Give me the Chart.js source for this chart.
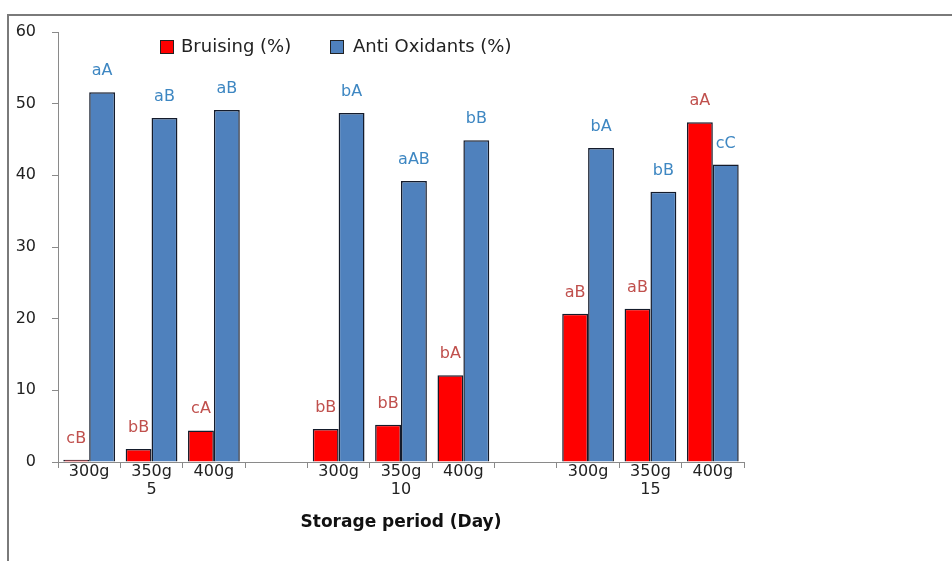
<!DOCTYPE html>
<html>
<head>
<meta charset="utf-8">
<script src="https://cdn.jsdelivr.net/npm/chart.js@4"></script>
<style>
  html, body { margin: 0; padding: 0; background: #fff; }
  canvas { display: block; }
</style>
</head>
<body>
<canvas id="bar" width="952" height="561"></canvas>
<script>
(function () {
  // data
  const weights = ['300g', '350g', '400g'];
  const days = ['5', '10', '15'];
  const bruising = [0.3, 1.8, 4.4, null, 4.6, 5.2, 12.1, null, 20.7, 21.4, 47.4];
  const antiOx = [51.6, 48.0, 49.1, null, 48.7, 39.2, 44.9, null, 43.8, 37.7, 41.5];
  const bruisingLetters = ['cB', 'bB', 'cA', null, 'bB', 'bB', 'bA', null, 'aB', 'aB', 'aA'];
  const antiOxLetters = ['aA', 'aB', 'aB', null, 'bA', 'aAB', 'bB', null, 'bA', 'bB', 'cC'];
  const yTicks = [0, 10, 20, 30, 40, 50, 60];

  // two level labels: weight, with the day under the middle bar
  const labels = [];
  days.forEach((d, i) => {
    if (i > 0) labels.push(['']);
    weights.forEach((w, j) => labels.push(j === 1 ? [w, d] : [w]));
  });

  const FONT = '"DejaVu Sans", sans-serif';

  // letters above bars
  const letters = {
    id: 'letters',
    afterDatasetsDraw(chart) {
      const ctx = chart.ctx;
      const sets = [[bruisingLetters, '#c0504d'], [antiOxLetters, '#3e87c2']];
      ctx.save();
      ctx.font = '16px ' + FONT;
      ctx.textAlign = 'center';
      ctx.textBaseline = 'alphabetic';
      sets.forEach(([txt, col], di) => {
        const meta = chart.getDatasetMeta(di);
        meta.data.forEach((el, i) => {
          if (!txt[i]) return;
          ctx.fillStyle = col;
          ctx.fillText(txt[i], el.x, el.y - 17);
        });
      });
      ctx.restore();
    }
  };

  // frame + legend drawn inside the plot
  const frame = {
    id: 'frame',
    beforeDraw(chart) {
      const ctx = chart.ctx;
      ctx.save();
      ctx.strokeStyle = '#7a7a7a';
      ctx.lineWidth = 2;
      ctx.beginPath();
      ctx.moveTo(952, 15);
      ctx.lineTo(8, 15);
      ctx.lineTo(8, 561);
      ctx.stroke();
      ctx.restore();
    },
    afterDraw(chart) {
      const ctx = chart.ctx;
      const items = [
        [160, 181, '#ff0000', 'Bruising (%)'],
        [330, 353, '#4f81bd', 'Anti Oxidants (%)']
      ];
      ctx.save();
      ctx.font = '18px ' + FONT;
      ctx.textBaseline = 'middle';
      items.forEach(([bx, tx, col, text]) => {
        ctx.fillStyle = col;
        ctx.fillRect(bx, 40, 14, 14);
        ctx.strokeStyle = '#222';
        ctx.lineWidth = 1;
        ctx.strokeRect(bx + 0.5, 40.5, 13, 13);
        ctx.fillStyle = '#222';
        ctx.fillText(text, tx, 47);
      });
      ctx.restore();
    }
  };

  new Chart(document.getElementById('bar'), {
    type: 'bar',
    data: {
      labels: labels,
      datasets: [
        {
          label: 'Bruising (%)',
          data: bruising,
          backgroundColor: '#ff0000',
          borderColor: '#141b2b',
          borderWidth: 1.5,
          categoryPercentage: 0.83,
          barPercentage: 1
        },
        {
          label: 'Anti Oxidants (%)',
          data: antiOx,
          backgroundColor: '#4f81bd',
          borderColor: '#141b2b',
          borderWidth: 1.5,
          categoryPercentage: 0.83,
          barPercentage: 1
        }
      ]
    },
    options: {
      responsive: false,
      animation: false,
      layout: { padding: { left: 0, right: 208, top: 32, bottom: 28 } },
      plugins: {
        legend: { display: false },
        tooltip: { enabled: false }
      },
      scales: {
        x: {
          afterFit(scale) { scale.height = 71; },
          grid: {
            offset: true,
            drawOnChartArea: false,
            drawTicks: true,
            tickLength: 6,
            color: '#8a8a8a'
          },
          border: { display: true, color: '#8a8a8a', width: 1 },
          ticks: {
            color: '#222',
            padding: -5,
            maxRotation: 0,
            autoSkip: false,
            font: { family: FONT, size: 16, lineHeight: 1.1 }
          },
          title: {
            display: true,
            text: 'Storage period (Day)',
            color: '#111',
            padding: { top: 0, bottom: 0 },
            font: { family: FONT, size: 17, weight: 'bold', lineHeight: 1.2 }
          }
        },
        y: {
          min: 0,
          max: 60,
          afterFit(scale) { scale.width = 58; },
          afterBuildTicks(scale) { scale.ticks = yTicks.map(v => ({ value: v })); },
          grid: {
            drawOnChartArea: false,
            drawTicks: true,
            tickLength: 6,
            color: '#8a8a8a'
          },
          border: { display: true, color: '#8a8a8a', width: 1 },
          ticks: {
            color: '#222',
            padding: 16,
            font: { family: FONT, size: 16 }
          }
        }
      }
    },
    plugins: [letters, frame]
  });
})();
</script>
</body>
</html>
